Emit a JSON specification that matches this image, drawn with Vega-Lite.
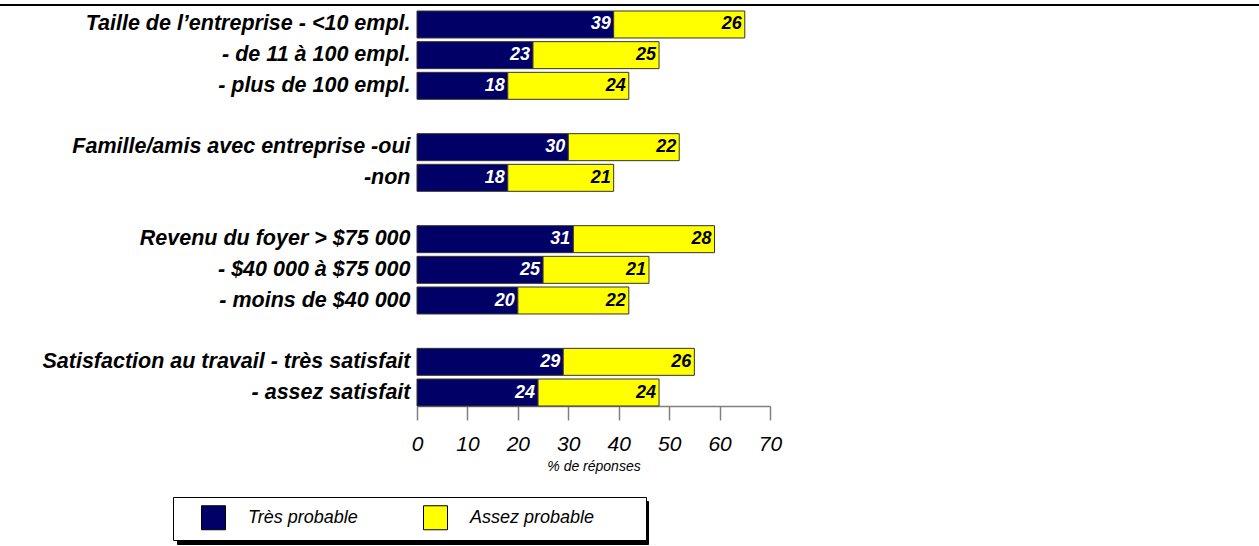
{
  "$schema": "https://vega.github.io/schema/vega-lite/v6.json",
  "autosize": {"type": "none"},
  "padding": {"left": 417, "top": 11, "right": 489, "bottom": 140},
  "width": 353,
  "height": 395,
  "background": "white",
  "config": {
    "view": {"stroke": null},
    "font": "Liberation Sans",
    "legend": {"strokeWidth": 1}
  },
  "data": {
    "values": [
      {"cat": "Taille de l’entreprise - <10 empl.", "serie": "Très probable", "ord": 1, "value": 39},
      {"cat": "Taille de l’entreprise - <10 empl.", "serie": "Assez probable", "ord": 2, "value": 26},
      {"cat": "- de 11 à 100 empl.", "serie": "Très probable", "ord": 1, "value": 23},
      {"cat": "- de 11 à 100 empl.", "serie": "Assez probable", "ord": 2, "value": 25},
      {"cat": "- plus de 100 empl.", "serie": "Très probable", "ord": 1, "value": 18},
      {"cat": "- plus de 100 empl.", "serie": "Assez probable", "ord": 2, "value": 24},
      {"cat": "Famille/amis avec entreprise -oui", "serie": "Très probable", "ord": 1, "value": 30},
      {"cat": "Famille/amis avec entreprise -oui", "serie": "Assez probable", "ord": 2, "value": 22},
      {"cat": "-non", "serie": "Très probable", "ord": 1, "value": 18},
      {"cat": "-non", "serie": "Assez probable", "ord": 2, "value": 21},
      {"cat": "Revenu du foyer  > $75 000", "serie": "Très probable", "ord": 1, "value": 31},
      {"cat": "Revenu du foyer  > $75 000", "serie": "Assez probable", "ord": 2, "value": 28},
      {"cat": "- $40 000 à $75 000", "serie": "Très probable", "ord": 1, "value": 25},
      {"cat": "- $40 000 à $75 000", "serie": "Assez probable", "ord": 2, "value": 21},
      {"cat": "- moins de $40 000", "serie": "Très probable", "ord": 1, "value": 20},
      {"cat": "- moins de $40 000", "serie": "Assez probable", "ord": 2, "value": 22},
      {"cat": "Satisfaction au travail - très satisfait", "serie": "Très probable", "ord": 1, "value": 29},
      {"cat": "Satisfaction au travail - très satisfait", "serie": "Assez probable", "ord": 2, "value": 26},
      {"cat": "- assez satisfait", "serie": "Très probable", "ord": 1, "value": 24},
      {"cat": "- assez satisfait", "serie": "Assez probable", "ord": 2, "value": 24}
    ]
  },
  "encoding": {
    "y": {
      "field": "cat",
      "type": "nominal",
      "scale": {
        "domain": [
          "Taille de l’entreprise - <10 empl.",
          "- de 11 à 100 empl.",
          "- plus de 100 empl.",
          " ",
          "Famille/amis avec entreprise -oui",
          "-non",
          "  ",
          "Revenu du foyer  > $75 000",
          "- $40 000 à $75 000",
          "- moins de $40 000",
          "   ",
          "Satisfaction au travail - très satisfait",
          "- assez satisfait"
        ],
        "paddingInner": 0.12,
        "paddingOuter": 0
      },
      "axis": {
        "title": null,
        "domain": false,
        "ticks": false,
        "labelFont": "Liberation Sans",
        "labelFontSize": 21.5,
        "labelFontWeight": "bold",
        "labelFontStyle": "italic",
        "labelColor": "black",
        "labelPadding": 7,
        "labelLimit": 500
      }
    }
  },
  "layer": [
    {
      "mark": {"type": "bar", "stroke": "#333333", "strokeWidth": 1},
      "encoding": {
        "x": {
          "field": "value",
          "type": "quantitative",
          "stack": "zero",
          "scale": {"domain": [0, 70], "nice": false},
          "axis": {
            "values": [0, 10, 20, 30, 40, 50, 60, 70],
            "grid": false,
            "labelFlush": false,
            "domainColor": "#808080",
            "domainWidth": 1.5,
            "tickColor": "#808080",
            "tickWidth": 1.5,
            "tickSize": 14,
            "labelFont": "Liberation Sans",
            "labelFontSize": 21,
            "labelFontStyle": "italic",
            "labelColor": "black",
            "labelPadding": 13,
            "title": "% de réponses",
            "titleFont": "Liberation Sans",
            "titleFontSize": 14,
            "titleFontStyle": "italic",
            "titleFontWeight": "normal",
            "titleColor": "black",
            "titlePadding": 5
          }
        },
        "color": {
          "field": "serie",
          "type": "nominal",
          "scale": {"domain": ["Très probable", "Assez probable"], "range": ["#000066", "#FFFF00"]},
          "legend": {
            "title": "_",
            "titleOrient": "right",
            "titleColor": "white",
            "titleFontSize": 10,
            "titlePadding": 38,
            "zindex": 1,
            "orient": "none",
            "legendX": -244,
            "legendY": 486,
            "direction": "horizontal",
            "fillColor": "white",
            "strokeColor": "black",
            "padding": 8,
            "symbolType": "square",
            "symbolSize": 576,
            "symbolStrokeColor": "black",
            "symbolStrokeWidth": 1,
            "symbolOpacity": 1,
            "symbolOffset": 20,
            "labelFont": "Liberation Sans",
            "labelFontSize": 18,
            "labelFontStyle": "italic",
            "labelColor": "black",
            "labelOffset": 22,
            "labelLimit": 300,
            "columnPadding": 45
          }
        },
        "order": {"field": "ord", "type": "quantitative"}
      }
    },
    {
      "transform": [
        {"stack": "value", "groupby": ["cat"], "sort": [{"field": "ord"}], "as": ["v0", "v1"]},
        {"filter": "datum.serie == 'Très probable'"}
      ],
      "mark": {"type": "text", "align": "right", "baseline": "middle", "dx": -3, "font": "Liberation Sans", "fontSize": 18, "fontWeight": "bold", "fontStyle": "italic", "fill": "white"},
      "encoding": {
        "x": {"field": "v1", "type": "quantitative"},
        "text": {"field": "value", "type": "quantitative"}
      }
    },
    {
      "transform": [
        {"stack": "value", "groupby": ["cat"], "sort": [{"field": "ord"}], "as": ["v0", "v1"]},
        {"filter": "datum.serie == 'Assez probable'"}
      ],
      "mark": {"type": "text", "align": "right", "baseline": "middle", "dx": -3, "font": "Liberation Sans", "fontSize": 18, "fontWeight": "bold", "fontStyle": "italic", "fill": "black"},
      "encoding": {
        "x": {"field": "v1", "type": "quantitative"},
        "text": {"field": "value", "type": "quantitative"}
      }
    },
    {
      "transform": [
        {"filter": "datum.cat == '- assez satisfait'"}
      ],
      "mark": {"type": "text", "text": ""},
      "encoding": {
        "opacity": {
          "field": "serie",
          "type": "nominal",
          "scale": {"domain": ["Très probable ", "Assez probable "], "range": [1, 1]},
          "legend": {
            "title": "_",
            "titleOrient": "right",
            "titleColor": "black",
            "titleFontSize": 10,
            "titlePadding": 162,
            "zindex": 0,
            "orient": "none",
            "legendX": -240,
            "legendY": 490,
            "direction": "horizontal",
            "fillColor": "black",
            "strokeColor": "black",
            "padding": 8,
            "symbolType": "square",
            "symbolSize": 576,
            "symbolFillColor": "black",
            "symbolStrokeColor": "black",
            "symbolStrokeWidth": 1,
            "symbolOffset": 20,
            "labelFont": "Liberation Sans",
            "labelFontSize": 18,
            "labelFontStyle": "italic",
            "labelColor": "black",
            "labelOffset": 22,
            "labelLimit": 300,
            "columnPadding": 153,
            "labelExpr": "''"
          }
        }
      }
    },
    {
      "data": {"values": [{"x0": -82.7, "x1": 167.9, "cat": "Taille de l’entreprise - <10 empl."}]},
      "mark": {"type": "rule", "stroke": "black", "strokeWidth": 2, "clip": false, "yOffset": -6},
      "encoding": {
        "x": {"field": "x0", "type": "quantitative"},
        "x2": {"field": "x1"},
        "y": {"field": "cat", "type": "nominal", "bandPosition": 0}
      }
    }
  ]
}
